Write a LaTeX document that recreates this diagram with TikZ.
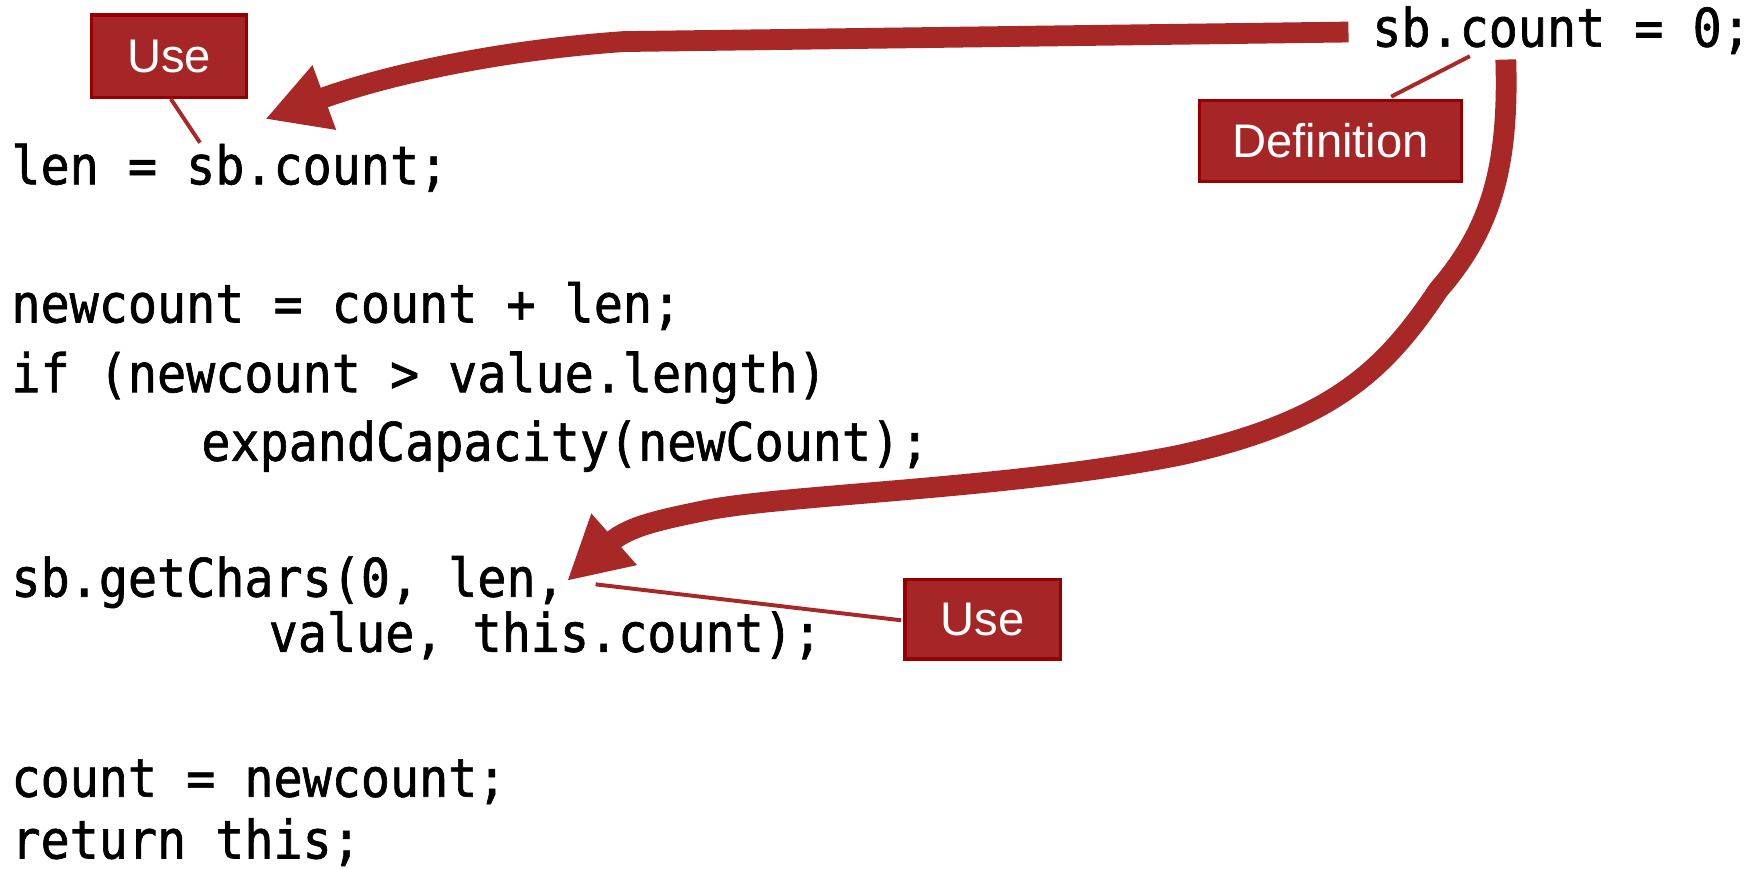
\documentclass[tikz,border=0pt]{standalone}
\usepackage{fontspec}
\usetikzlibrary{arrows.meta}
\newfontfamily\codefont[FakeStretch=0.91,FakeBold=1.2]{DejaVu Sans Mono}
\newfontfamily\labelfont{Liberation Sans}
\definecolor{arrowred}{RGB}{168,40,40}
\definecolor{boxfill}{RGB}{166,38,40}
\definecolor{boxborder}{RGB}{150,0,0}
\tikzset{
  code/.style={anchor=base west, inner sep=0pt, font=\codefont\fontsize{47.3}{56}\selectfont},
  tag/.style={draw=boxborder, fill=boxfill, line width=3pt, text=white,
    font=\labelfont\fontsize{42}{48}\selectfont, inner sep=0pt},
  pointer/.style={draw=arrowred, line width=3.5pt},
  bigarrow/.style={draw=arrowred, line width=18.5pt, -{Triangle[length=56pt,width=57pt]}},
}
\begin{document}
\begin{tikzpicture}[x=1pt,y=-1pt]
\useasboundingbox (0,0) rectangle (1568,773);
% code lines
\node[code] (def) at (1221,41.5) {sb.count = 0;};
\node[code] (l1) at (10,164) {len = sb.count;};
\node[code] (l2) at (10,287) {newcount = count + len;};
\node[code] (l3) at (10,349) {if (newcount > value.length)};
\node[code] (l4) at (179,410) {expandCapacity(newCount);};
\node[code] (l5) at (10,531) {sb.getChars(0, len,};
\node[code] (l6) at (239,580) {value, this.count);};
\node[code] (l7) at (10,709) {count = newcount;};
\node[code] (l8) at (10,764) {return this;};
% tags
\node[tag, minimum width=138pt, minimum height=73pt] (use1) at (150.5,50) {Use};
\node[tag, minimum width=233pt, minimum height=72pt] (defn) at (1184,125.5) {Definition};
\node[tag, minimum width=138pt, minimum height=71pt] (use2) at (874.5,551) {Use};
% pointer lines
\coordinate (p1a) at (152,88);  \coordinate (p1b) at (178,127);
\coordinate (p2a) at (1238,86); \coordinate (p2b) at (1308,50);
\coordinate (p3a) at (530,520); \coordinate (p3b) at (802,552);
\draw[pointer] (p1a) -- (p1b);
\draw[pointer] (p2a) -- (p2b);
\draw[pointer] (p3a) -- (p3b);
% big arrows
\coordinate (a1s) at (1200,28.5);
\coordinate (a1e) at (236,106);
\coordinate (a2s) at (1340,53);
\coordinate (a2e) at (504.6,517);
\draw[bigarrow] (a1s) -- (555,37) .. controls (440,45) and (340,68) .. (a1e);
\draw[bigarrow] (a2s) .. controls (1343,150) and (1326,205) .. (1280,258)
  .. controls (1232,330) and (1185,375) .. (1050,405)
  .. controls (900,435) and (700,440) .. (629,454)
  .. controls (590,462) and (560,468) .. (a2e);
\end{tikzpicture}
\end{document}
